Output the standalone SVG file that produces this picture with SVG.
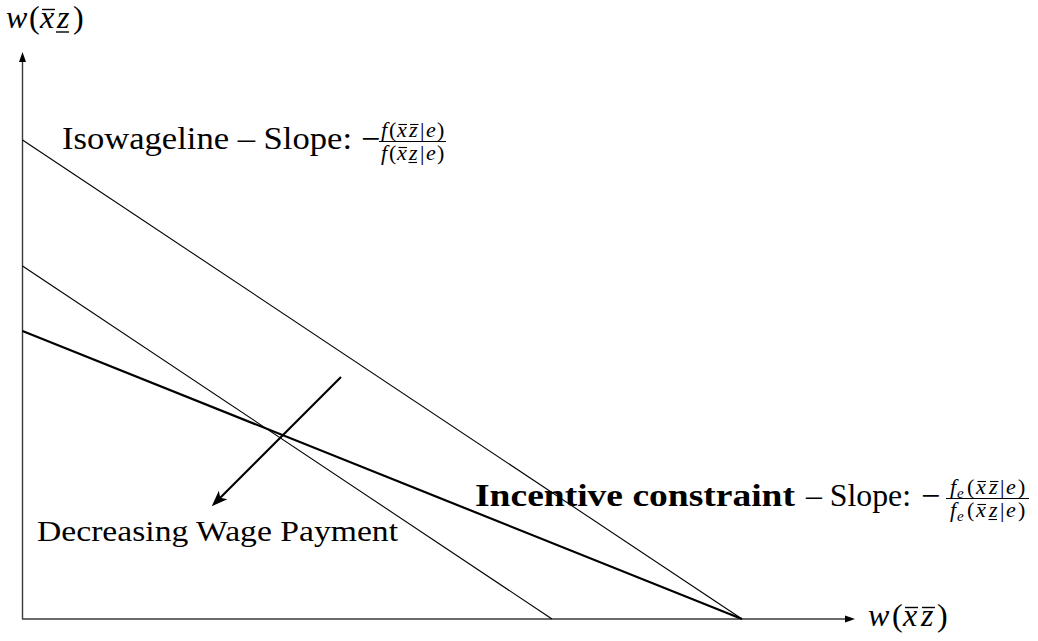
<svg xmlns="http://www.w3.org/2000/svg" width="1038" height="641" viewBox="0 0 1038 641">
<style>
text{font-family:"Liberation Serif","Times New Roman",serif;fill:#000}
.it{font-style:italic}
.axis{stroke:#3a3a3a;stroke-width:1.4;fill:none}
.thin{stroke:#000;stroke-width:1.1;fill:none}
.thick{stroke:#000;stroke-width:2.2;fill:none}
.bar{stroke:#000;stroke-width:1}
.acc{stroke:#000;stroke-width:1.1;fill:none}
.accL{stroke:#000;stroke-width:1.4;fill:none}
</style>
<defs>
<marker id="axhead" viewBox="0 -5 12 10" refX="0" refY="0" markerWidth="12" markerHeight="10" markerUnits="userSpaceOnUse" orient="auto">
<path d="M10,0 L0,-3.5 L0,3.5 Z" fill="#000"/>
</marker>
<marker id="bighead" viewBox="-12 -8 20 16" refX="0" refY="0" markerWidth="20" markerHeight="16" markerUnits="userSpaceOnUse" orient="auto">
<path d="M6,0 L-10,-6 L-6,0 L-10,6 Z" fill="#000"/>
</marker>
</defs>
<g id="axes">
<line class="axis" x1="22.5" y1="619" x2="22.5" y2="62" marker-end="url(#axhead)"/>
<line class="axis" x1="22" y1="619" x2="845" y2="619" marker-end="url(#axhead)"/>
</g>
<g id="connectors">
<line class="thin" x1="22.5" y1="140" x2="742" y2="619"/>
<line class="thin" x1="22.5" y1="266" x2="552" y2="619"/>
<line class="thick" x1="22.5" y1="331" x2="742" y2="619"/>
<line class="thick" x1="341" y1="377" x2="216" y2="502" stroke-width="2" marker-end="url(#bighead)"/>
</g>
<g id="ylabel">
<text y="28" font-size="32"><tspan class="it" x="6">w</tspan><tspan x="29">(</tspan><tspan class="it" x="40">x</tspan><tspan class="it" x="57">z</tspan><tspan x="73">)</tspan></text>
<line class="accL" x1="42" y1="9.5" x2="55" y2="9.5"/>
<line class="accL" x1="56" y1="32" x2="69" y2="32"/>
</g>
<g id="xlabel">
<text y="626" font-size="32"><tspan class="it" x="868">w</tspan><tspan x="892">(</tspan><tspan class="it" x="903">x</tspan><tspan class="it" x="921">z</tspan><tspan x="937">)</tspan></text>
<line class="accL" x1="905" y1="607.5" x2="918" y2="607.5"/>
<line class="accL" x1="922" y1="607.5" x2="935" y2="607.5"/>
</g>
<g id="isowage-label">
<text x="62" y="149" font-size="31" textLength="290" lengthAdjust="spacingAndGlyphs">Isowageline – Slope:</text>
<text x="361" y="150" font-size="34">−</text>
<line class="bar" x1="379" y1="141.5" x2="446" y2="141.5"/>
<text y="137" font-size="22"><tspan class="it" x="381">f</tspan><tspan x="389">(</tspan><tspan class="it" x="397">x</tspan><tspan class="it" x="409">z</tspan><tspan x="420">|</tspan><tspan class="it" x="426">e</tspan><tspan x="437">)</tspan></text>
<line class="acc" x1="398.5" y1="124.5" x2="407" y2="124.5"/>
<line class="acc" x1="410" y1="124.5" x2="418.5" y2="124.5"/>
<text y="160" font-size="22"><tspan class="it" x="381">f</tspan><tspan x="389">(</tspan><tspan class="it" x="397">x</tspan><tspan class="it" x="409">z</tspan><tspan x="420">|</tspan><tspan class="it" x="426">e</tspan><tspan x="437">)</tspan></text>
<line class="acc" x1="398.5" y1="147.5" x2="407" y2="147.5"/>
<line class="acc" x1="408.5" y1="162.5" x2="417" y2="162.5"/>
</g>
<g id="incentive-label">
<text x="475" y="506" font-size="31" font-weight="bold" textLength="320" lengthAdjust="spacingAndGlyphs">Incentive constraint</text>
<text x="806" y="506" font-size="31" textLength="105" lengthAdjust="spacingAndGlyphs">– Slope:</text>
<text x="921" y="507" font-size="34">−</text>
<line class="bar" x1="946" y1="498.5" x2="1029" y2="498.5"/>
<text y="494" font-size="22"><tspan class="it" x="950">f</tspan><tspan class="it" x="957" y="498" font-size="15">e</tspan><tspan x="967" y="494">(</tspan><tspan class="it" x="976">x</tspan><tspan class="it" x="989">z</tspan><tspan x="1000">|</tspan><tspan class="it" x="1006">e</tspan><tspan x="1018">)</tspan></text>
<line class="acc" x1="977.5" y1="481.5" x2="986" y2="481.5"/>
<line class="acc" x1="990" y1="481.5" x2="998.5" y2="481.5"/>
<text y="517" font-size="22"><tspan class="it" x="950">f</tspan><tspan class="it" x="957" y="521" font-size="15">e</tspan><tspan x="967" y="517">(</tspan><tspan class="it" x="976">x</tspan><tspan class="it" x="989">z</tspan><tspan x="1000">|</tspan><tspan class="it" x="1006">e</tspan><tspan x="1018">)</tspan></text>
<line class="acc" x1="977.5" y1="504.5" x2="986" y2="504.5"/>
<line class="acc" x1="988.5" y1="519.5" x2="997" y2="519.5"/>
</g>
<g id="decreasing-label">
<text x="37" y="541" font-size="30" textLength="361" lengthAdjust="spacingAndGlyphs">Decreasing Wage Payment</text>
</g>
</svg>
